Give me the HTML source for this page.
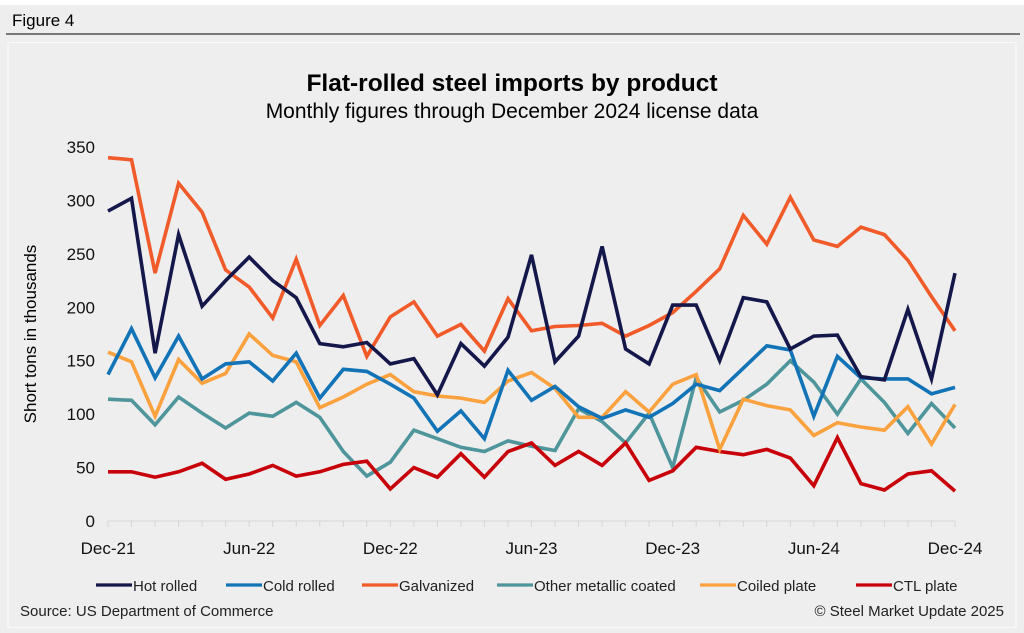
<!DOCTYPE html>
<html><head><meta charset="utf-8"><style>
body{margin:0;background:#fff;}
svg{display:block;font-family:"Liberation Sans",sans-serif;}
</style></head><body>
<svg id="chart" width="1024" height="633" viewBox="0 0 1024 633">
<rect x="0" y="5" width="1024" height="628" fill="#eeeeee"/>
<text x="12" y="26" font-size="17" fill="#000">Figure 4</text>
<line x1="6" y1="34" x2="1020" y2="34" stroke="#333" stroke-width="1.2"/>
<rect x="8" y="42.5" width="1008" height="585" fill="#eeeeee" stroke="#fafafa" stroke-width="1.2"/>
<text x="512" y="91" font-size="24.5" font-weight="bold" text-anchor="middle">Flat-rolled steel imports by product</text>
<text x="512" y="118" font-size="21" text-anchor="middle">Monthly figures through December 2024 license data</text>
<text transform="translate(36,334) rotate(-90)" font-size="17" text-anchor="middle">Short tons in thousands</text>
<g id="axes"></g>
<g id="series"></g>
<g id="legend"></g>
<text x="20" y="616" font-size="15" fill="#222">Source: US Department of Commerce</text>
<text x="1004" y="616" font-size="15" fill="#222" text-anchor="end">© Steel Market Update 2025</text>
</svg>
<script>
const months = 37;
const yTicks = [0,50,100,150,200,250,300,350];
const xTickIdx = [0,6,12,18,24,30,36];
const xTickLabels = ["Dec-21","Jun-22","Dec-22","Jun-23","Dec-23","Jun-24","Dec-24"];
const seriesNames = ["Hot rolled","Cold rolled","Galvanized","Other metallic coated","Coiled plate","CTL plate"];
const seriesColors = ["#14174a","#1273b7","#f15a29","#4f959c","#fba13e","#c8000a"];
const hotRolled = [290,302,157,268,201,225,247,225,209,166,163,167,147,152,118,166,145,172,249,149,173,257,161,147,202,202,150,209,205,161,173,174,135,132,198,133,232];
const coldRolled = [137,180,134,173,133,147,149,131,157,115,142,140,128,115,84,103,77,141,113,126,107,96,104,97,110,128,122,143,164,160,98,154,134,133,133,119,125];
const galvanized = [340,338,232,316,289,235,219,190,245,183,211,154,191,205,173,184,159,208,178,182,183,185,173,183,195,215,236,286,259,303,263,257,275,268,244,210,178];
const otherCoated = [114,113,90,116,101,87,101,98,111,97,65,42,55,85,77,69,65,75,70,66,105,93,73,101,50,134,102,113,128,150,130,100,133,111,82,110,87];
const coiledPlate = [158,149,98,151,129,138,175,155,149,106,116,128,137,121,117,115,111,131,139,124,97,97,121,102,128,137,67,114,108,104,80,92,88,85,107,72,109];
const ctlPlate = [46,46,41,46,54,39,44,52,42,46,53,56,30,50,41,63,41,65,73,52,65,52,73,38,47,69,65,62,67,59,33,78,35,29,44,47,28];
const drawOrder = [3,5,4,1,2,0];
const allSeries = [hotRolled,coldRolled,galvanized,otherCoated,coiledPlate,ctlPlate];

const NS="http://www.w3.org/2000/svg";
const X0=108,X1=955,Y0=521,Y350=147;
function xs(i){return X0+(X1-X0)*i/(months-1);}
function ys(v){return Y0-(Y0-Y350)*v/350;}
function mk(tag,attrs,parent){const e=document.createElementNS(NS,tag);for(const k in attrs)e.setAttribute(k,attrs[k]);parent.appendChild(e);return e;}

const axes=document.getElementById('axes');
yTicks.forEach(t=>{
  const tx=mk('text',{x:95,y:ys(t)+6,'font-size':17,'text-anchor':'end',fill:'#111'},axes);
  tx.textContent=t;
  
  
});
const base=mk('line',{x1:X0,y1:Y0,x2:X1,y2:Y0,stroke:'#d6d6d6','stroke-width':1},axes);


for(let i=0;i<months;i++){
  const tk=mk('line',{x1:xs(i),y1:Y0,x2:xs(i),y2:Y0+6,stroke:'#d6d6d6','stroke-width':1},axes);
  
  
}
xTickIdx.forEach((idx,k)=>{
  const tx=mk('text',{x:xs(idx),y:554,'font-size':17,'text-anchor':'middle',fill:'#111'},axes);
  tx.textContent=xTickLabels[k];
  
  
});

const sg=document.getElementById('series');
drawOrder.forEach(s=>{
  const d=allSeries[s].map((v,i)=>(i?'L':'M')+xs(i).toFixed(1)+','+ys(v).toFixed(1)).join(' ');
  const p=mk('path',{d:d,fill:'none',stroke:seriesColors[s],'stroke-width':3.6,'stroke-linejoin':'miter'},sg);
  
  
});

const lg=document.getElementById('legend');
const legX=[96,226,362,497,700,856];
seriesNames.forEach((n,s)=>{
  const g=mk('g',{},lg);
  
  
  mk('line',{x1:legX[s],y1:585,x2:legX[s]+36,y2:585,stroke:seriesColors[s],'stroke-width':3.2},g);
  const t=mk('text',{x:legX[s]+37,y:591,'font-size':15,fill:'#222'},g);
  t.textContent=n;
});
</script>
</body></html>
